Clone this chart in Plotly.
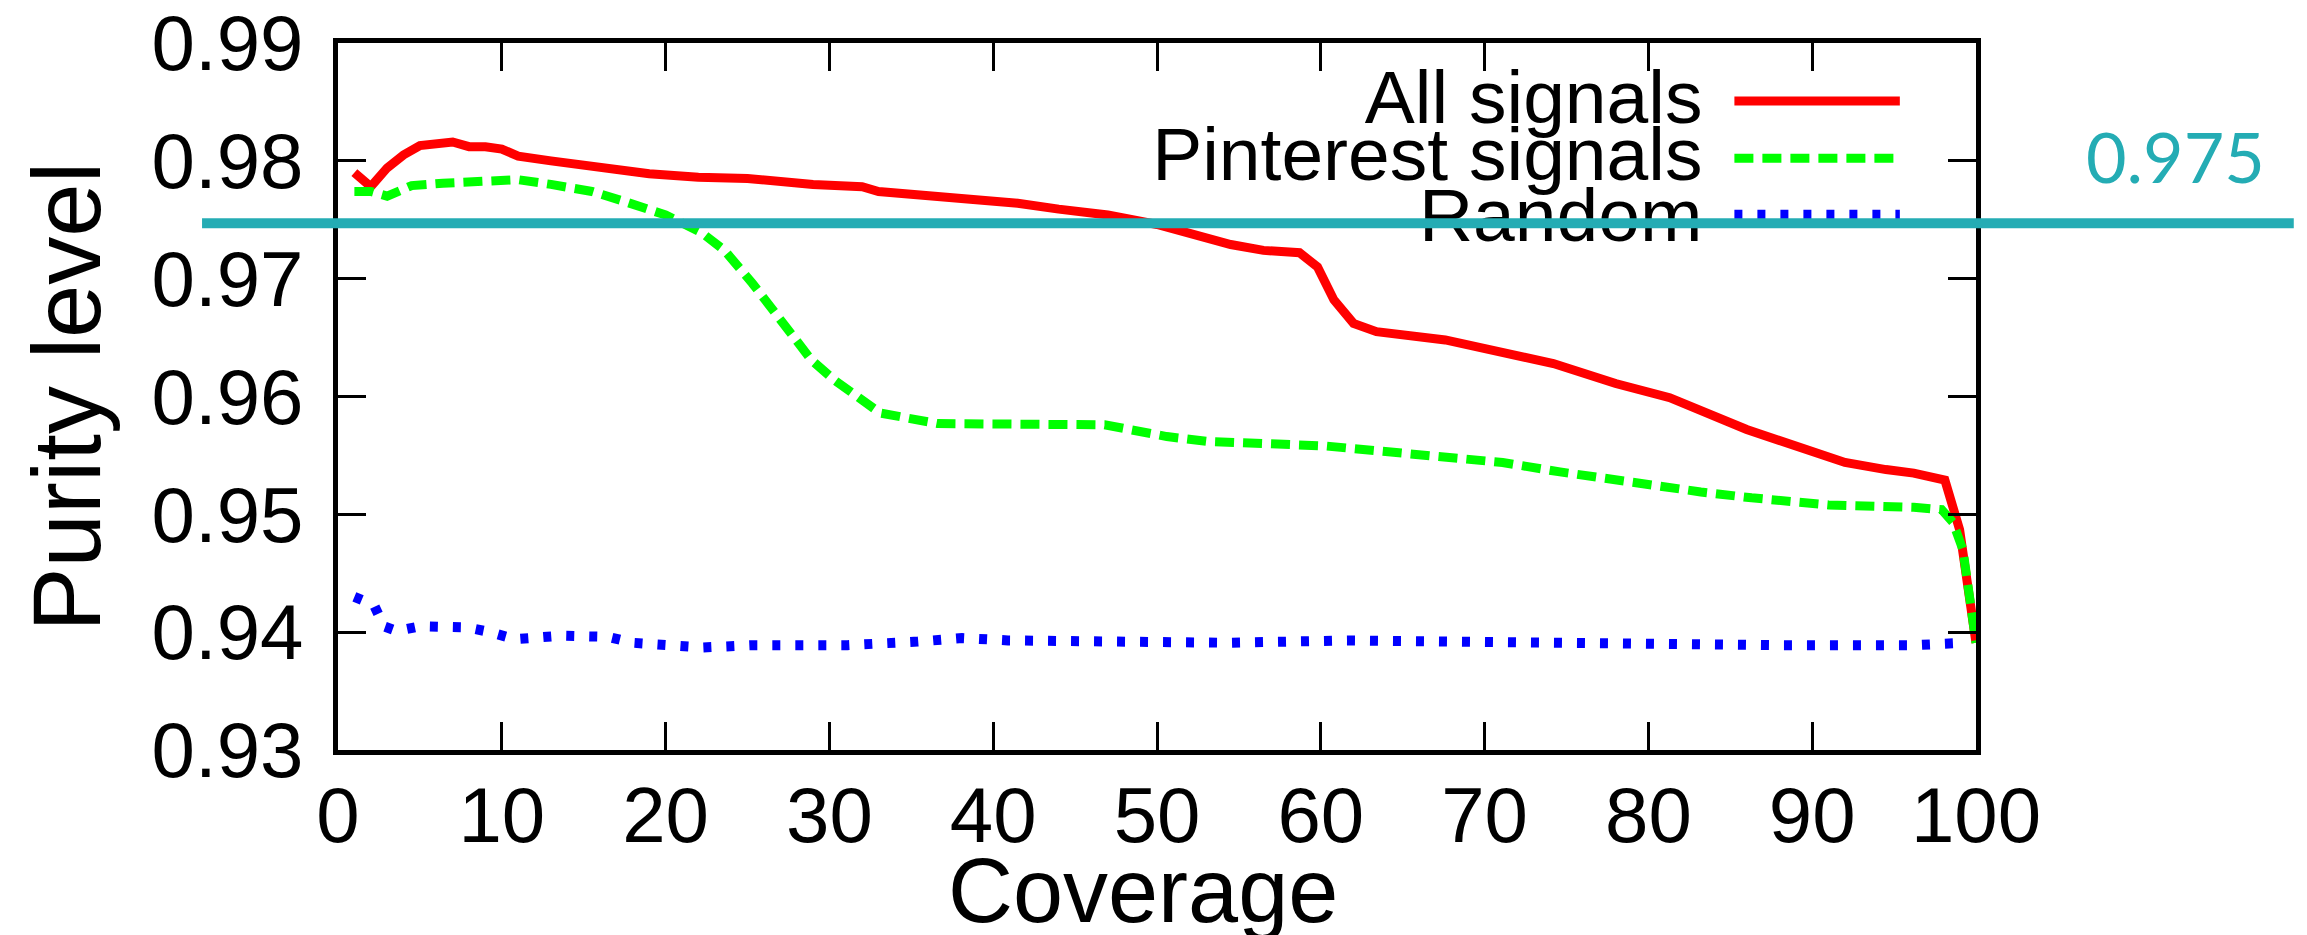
import plotly.graph_objects as go

# ---- data ----
x_all = [1, 2, 3, 4, 5, 7, 8, 9, 10, 11, 13, 16, 19, 22, 25, 29, 32, 33, 37, 41.5, 44, 47,
         50, 52, 54.5, 56.5, 58.7, 59.8, 60.8, 62, 63.4, 67.6, 71, 74.2, 78, 81.3, 86, 89.3,
         92, 94.5, 96.2, 98.1, 99, 100]
y_all = [0.9790, 0.9778, 0.9794, 0.9805, 0.9813, 0.9816, 0.9812, 0.9812, 0.9810, 0.9804,
         0.9800, 0.9795, 0.9789, 0.9786, 0.9785, 0.9780, 0.9778, 0.9774, 0.9770, 0.9764,
         0.9759, 0.9754, 0.9746, 0.9739, 0.9729, 0.9724, 0.9722, 0.9710, 0.9682, 0.9662,
         0.9655, 0.9648, 0.9637, 0.9628, 0.9611, 0.9599, 0.9572, 0.9556, 0.9544, 0.9538,
         0.9535, 0.9529, 0.9487, 0.9391]

x_pin = [1, 2, 3, 4.5, 6.4, 8.5, 11, 13, 15.5, 17.6, 20, 22.2, 23.6, 25.3, 26.7, 27.8, 28.9,
         30.3, 32, 33.1, 36.6, 41.8, 46.8, 50.6, 53, 60.3, 65.1, 71.1, 74.6, 78.9, 83.2, 86.3,
         91, 96.2, 97.9, 98.6, 99.2, 100]
y_pin = [0.9774, 0.9774, 0.9770, 0.9779, 0.9781, 0.9782, 0.9784, 0.9780, 0.9774, 0.9765,
         0.9754, 0.9739, 0.9724, 0.9696, 0.9671, 0.9651, 0.9631, 0.9614, 0.9597, 0.9586,
         0.9577, 0.9576, 0.9576, 0.9566, 0.9562, 0.9558, 0.9552, 0.9544, 0.9536, 0.9527,
         0.9519, 0.9514, 0.9508, 0.9506, 0.9504, 0.9493, 0.9470, 0.9391]

x_rnd = [1, 2.2, 2.8, 3.6, 5, 7.9, 9.3, 10.8, 13.6, 16.5, 18, 20.8, 22.3, 25.3, 31.1, 35.4,
         38.1, 40.9, 48.7, 54.5, 61.6, 72.4, 78.9, 87.5, 96.2, 99.4]
y_rnd = [0.9430, 0.9423, 0.9405, 0.9401, 0.9405, 0.9404, 0.9400, 0.9394, 0.9397, 0.9396,
         0.9391, 0.9389, 0.9387, 0.9389, 0.9389, 0.9392, 0.9395, 0.9393, 0.9391, 0.9391,
         0.9393, 0.9391, 0.9389, 0.9389, 0.9389, 0.9391]

series_names = ["All signals", "Pinterest signals", "Random"]
x_ticks = [0, 10, 20, 30, 40, 50, 60, 70, 80, 90, 100]
y_ticks = [0.93, 0.94, 0.95, 0.96, 0.97, 0.98, 0.99]
threshold = 0.975
threshold_label = "0.975"
x_title = "Coverage"
y_title = "Purity level"

# ---- style ----
X_RANGE = [0, 100]
Y_RANGE = [0.93, 0.99]
TEAL = "#24acb4"
FONT = "Liberation Sans, Arial, sans-serif"
colors = ["#ff0000", "#00ff00", "#0000ff"]
dashes = ["solid", "19px,9px", "8px,15px"]
widths = [9, 9, 10]

fig = go.Figure()
for xs, ys, name, c, d, w in zip([x_all, x_pin, x_rnd], [y_all, y_pin, y_rnd],
                                 series_names, colors, dashes, widths):
    fig.add_trace(go.Scatter(x=xs, y=ys, mode="lines", name=name,
                             line=dict(color=c, dash=d, width=w), showlegend=False))

# legend: text to the left of the sample line (gnuplot style)
leg_x = 83.3
leg_y = [0.98484, 0.97994, 0.97483]
fig.add_trace(go.Scatter(x=[leg_x] * 3, y=leg_y, mode="text", text=series_names,
                         textposition="middle left", cliponaxis=False, showlegend=False,
                         textfont=dict(family=FONT, size=75, color="black"), hoverinfo="skip"))

shapes = []
leg_paper_y = [0.918, 0.837, 0.757]
for py, c, d, w in zip(leg_paper_y, colors, dashes, widths):
    shapes.append(dict(type="line", xref="paper", yref="paper", x0=0.8525, x1=0.9535,
                       y0=py, y1=py, line=dict(color=c, dash=d, width=w)))
ty = (threshold - Y_RANGE[0]) / (Y_RANGE[1] - Y_RANGE[0]) - 0.005
shapes.append(dict(type="line", xref="paper", yref="paper", x0=-0.083, x1=1.194,
                   y0=ty, y1=ty, line=dict(color=TEAL, width=10), layer="above"))

axis_common = dict(showline=True, linecolor="black", linewidth=5, mirror="allticks",
                   ticks="inside", ticklen=28, tickwidth=3, tickcolor="black",
                   showgrid=False, zeroline=False, automargin=False,
                   ticklabeloverflow="allow",
                   tickfont=dict(family=FONT, size=78, color="black"))

fig.update_layout(
    template="none",
    width=2307, height=935,
    margin=dict(l=330, r=339, t=35, b=193, pad=0, autoexpand=False),
    paper_bgcolor="white", plot_bgcolor="white",
    font=dict(family=FONT, color="black"),
    showlegend=False,
    xaxis=dict(range=X_RANGE, tickvals=x_ticks, ticktext=[str(v) for v in x_ticks],
               ticklabelstandoff=-7, **axis_common),
    yaxis=dict(range=Y_RANGE, tickvals=y_ticks, ticktext=[f"{v:.2f}" for v in y_ticks],
               ticklabelstandoff=14, **axis_common),
    shapes=shapes,
    annotations=[
        dict(text=y_title, xref="paper", yref="paper", x=-0.1655, y=0.5, textangle=-90,
             showarrow=False, xanchor="center", yanchor="middle",
             font=dict(family=FONT, size=96, color="black")),
        dict(text=x_title, xref="paper", yref="paper", x=0.4916, y=-0.126,
             showarrow=False, xanchor="center", yanchor="top",
             font=dict(family=FONT, size=90, color="black")),
        dict(text=threshold_label, xref="paper", yref="paper", x=1.1221, y=0.84,
             showarrow=False, xanchor="center", yanchor="middle",
             font=dict(family="Lato, Open Sans, sans-serif", size=70, color=TEAL)),
    ],
)

fig.write_html("out.html")
